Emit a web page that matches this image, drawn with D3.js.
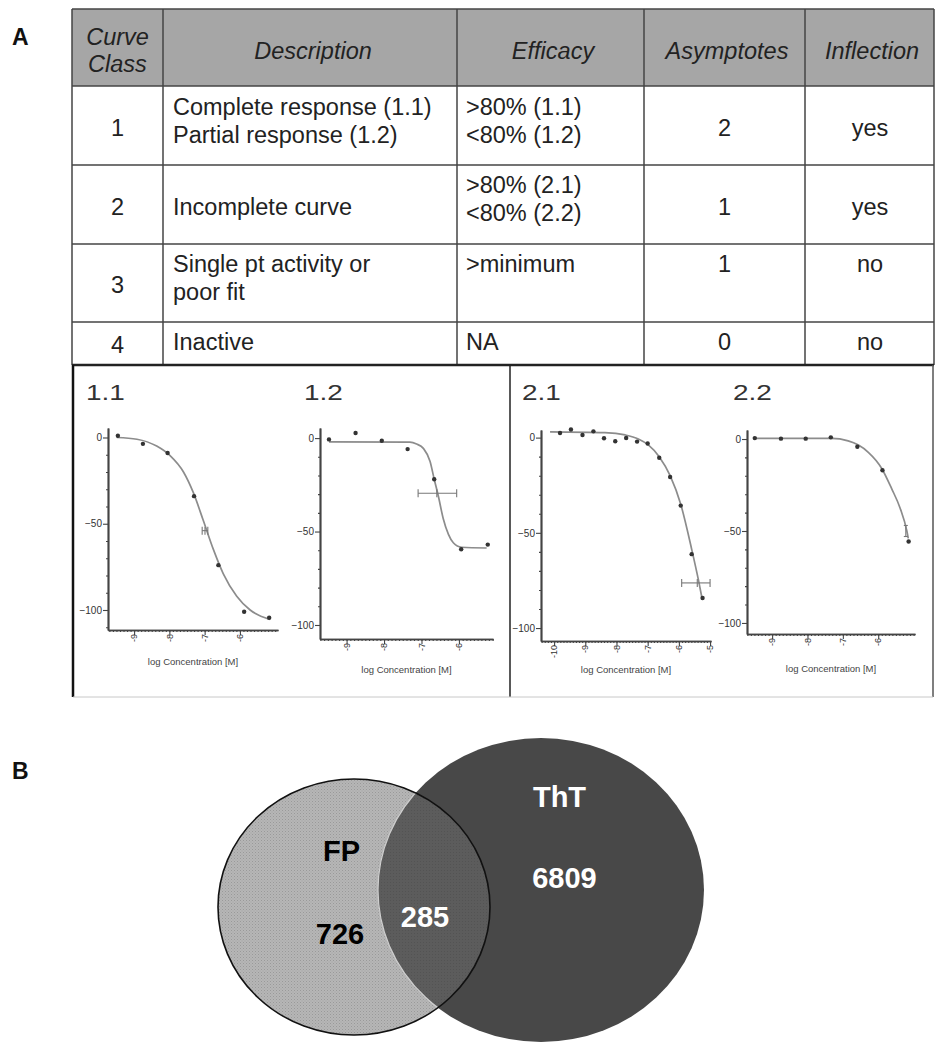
<!DOCTYPE html>
<html><head><meta charset="utf-8">
<script src="https://cdn.jsdelivr.net/npm/d3@7"></script>
<style>
body{margin:0;background:#fff}
svg{display:block}
text{font-family:"Liberation Sans",Arial,Helvetica,sans-serif}
</style>
</head><body>
<svg id="c" width="948" height="1050"></svg>
<script>
// ---------------- DATA ----------------
const tableHeaders = [["Curve","Class"],["Description"],["Efficacy"],["Asymptotes"],["Inflection"]];
const curveClasses = ["1","2","3","4"];
const descriptions = [["Complete response (1.1)","Partial response (1.2)"],["Incomplete curve"],["Single pt activity or","poor fit"],["Inactive"]];
const efficacies = [[">80% (1.1)","<80% (1.2)"],[">80% (2.1)","<80% (2.2)"],[">minimum"],["NA"]];
const asymptotes = ["2","1","1","0"];
const inflections = ["yes","yes","no","no"];

const miniTitles = ["1.1","1.2","2.1","2.2"];
const xAxisTitle = "log Concentration [M]";
const yTickValues = [0,-50,-100];

// curve 1.1
const logC11 = [-9.46,-8.75,-8.05,-7.30,-6.61,-5.88,-5.17];
const resp11 = [1,-3.7,-9,-34,-74,-101,-104.5];
const fitX11 = [-9.49,-8.92,-8.36,-7.98,-7.60,-7.32,-7.04,-6.75,-6.47,-6.09,-5.71,-5.15];
const fitY11 = [0,-1,-5,-10.5,-20,-32,-48,-65,-79,-92,-100,-105.5];
const xTicks11 = [-9,-8,-7,-6];
const ec11 = {x:-6.99, y:-54, lo:-7.07, hi:-6.91};

// curve 1.2
const logC12 = [-9.47,-8.76,-8.06,-7.37,-6.66,-5.94,-5.23];
const resp12 = [-0.7,2.7,-1.4,-5.9,-22,-59.5,-57];
const fitX12 = [-9.47,-7.31,-7.13,-6.95,-6.77,-6.66,-6.55,-6.42,-6.28,-6.15,-5.93,-5.26];
const fitY12 = [-2,-2.2,-3.2,-5.5,-12.5,-22,-31,-43,-51.5,-56,-58.4,-58.8];
const xTicks12 = [-9,-8,-7,-6];
const ec12 = {x:-6.59, y:-29.5, lo:-7.09, hi:-6.06};

// curve 2.1
const logC21 = [-9.81,-9.46,-9.09,-8.74,-8.40,-8.04,-7.69,-7.34,-7.00,-6.63,-6.28,-5.94,-5.59,-5.24];
const resp21 = [2.4,4.3,1.4,3.3,-0.3,-1.9,-0.2,-2.1,-3.1,-10.6,-20.7,-35.7,-61.2,-84.2];
const fitX21 = [-10.13,-8.37,-7.72,-7.30,-6.98,-6.63,-6.28,-5.94,-5.59,-5.37,-5.25];
const fitY21 = [3,2.6,1.4,-0.7,-3.8,-10,-20,-35,-58.6,-75,-85];
const xTicks21 = [-10,-9,-8,-7,-6,-5];
const ec21 = {x:-5.41, y:-76.3, lo:-5.91, hi:-5.0};

// curve 2.2
const logC22 = [-9.49,-8.75,-8.05,-7.34,-6.59,-5.88,-5.14];
const resp22 = [0.5,0.2,0.2,0.9,-4.2,-17,-55.7];
const fitX22 = [-9.49,-7.32,-6.85,-6.56,-6.28,-5.90,-5.62,-5.38,-5.19,-5.15];
const fitY22 = [0.3,0.3,-1,-3.3,-7.2,-16,-27,-37.6,-50,-54];
const xTicks22 = [-9,-8,-7,-6];
const ec22 = {x:-5.22, ylo:-53, yhi:-47};

// Venn
const vennNames = ["FP","ThT"];
const vennOnly = [726, 6809];
const vennShared = 285;

// ---------------- DRAW ----------------
const svg = d3.select("#c");
const FONT = '"Liberation Sans",Arial,Helvetica,sans-serif';

// panel letters
svg.append("text").attr("x",12).attr("y",45).attr("font-size",23).attr("font-weight","bold").attr("fill","#111").text("A");
svg.append("text").attr("x",12).attr("y",779).attr("font-size",23).attr("font-weight","bold").attr("fill","#111").text("B");

// ---- table ----
const colX = [72,163,457,644,805,934];
const rowY = [9,86,165,244,322,365];
const colAlign = ["middle","start","start","middle","middle"];
const colTextX = [117.5,173,466,724.5,870];
const headerX = [117.5,313,553,727,872];

svg.append("rect").attr("x",colX[0]).attr("y",rowY[0]).attr("width",colX[5]-colX[0]).attr("height",rowY[1]-rowY[0]).attr("fill","#a6a6a6");

// header text
tableHeaders.forEach((lines,i)=>{
  const base = lines.length===2 ? [45,72] : [59];
  lines.forEach((t,j)=>{
    svg.append("text").attr("x",headerX[i]).attr("y",base[j]).attr("text-anchor","middle")
      .attr("font-size",23.5).attr("font-style","italic").attr("fill","#222").text(t);
  });
});

const rowTopBase = [115,193,272,350];
const rowMidBase = [136,215,293,353];
const valign = [["m","t","t","m","m"],["m","m","t","m","m"],["m","t","t","t","t"],["m","t","t","t","t"]];
const rowsData = curveClasses.map((c,i)=>[[c],descriptions[i],efficacies[i],[asymptotes[i]],[inflections[i]]]);
rowsData.forEach((cells,r)=>{
  cells.forEach((lines,ci)=>{
    const b0 = valign[r][ci]==="m" ? rowMidBase[r] : rowTopBase[r];
    lines.forEach((t,j)=>{
      svg.append("text").attr("x",colTextX[ci]).attr("y",b0+j*28).attr("text-anchor",colAlign[ci])
        .attr("font-size",23.5).attr("fill","#222").text(t);
    });
  });
});

// grid lines
const grid = svg.append("g").attr("stroke","#444").attr("stroke-width",1.5);
colX.forEach(x=>grid.append("line").attr("x1",x).attr("x2",x).attr("y1",rowY[0]).attr("y2",rowY[5]));
rowY.slice(0,5).forEach(y=>grid.append("line").attr("x1",colX[0]).attr("x2",colX[5]).attr("y1",y).attr("y2",y));
svg.append("line").attr("x1",colX[0]).attr("x2",colX[5]).attr("y1",365).attr("y2",365).attr("stroke","#222").attr("stroke-width",2.5);

// ---- panel frame ----
svg.append("line").attr("x1",73).attr("x2",73).attr("y1",365).attr("y2",697).attr("stroke","#111").attr("stroke-width",2.5);
svg.append("line").attr("x1",510).attr("x2",510).attr("y1",365).attr("y2",697).attr("stroke","#222").attr("stroke-width",1.5);
svg.append("line").attr("x1",933).attr("x2",933).attr("y1",365).attr("y2",697).attr("stroke","#555").attr("stroke-width",1.5);
svg.append("line").attr("x1",73).attr("x2",933).attr("y1",697).attr("y2",697).attr("stroke","#c8c8c8").attr("stroke-width",1);

// ---- mini charts ----
const miniCfg = [
  {x0:108, x1:278, xDomain:[-9.74,-4.92], yTop:428, yBottom:630, yDomain:[-111.6,5.5], tx:86, lb:665},
  {x0:320, x1:493, xDomain:[-9.71,-5.09], yTop:428, yBottom:639, yDomain:[-107.5,5.4], tx:304, lb:673},
  {x0:541, x1:711, xDomain:[-10.42,-4.97], yTop:430, yBottom:641, yDomain:[-106.8,4], tx:522, lb:673},
  {x0:747, x1:915, xDomain:[-9.71,-4.96], yTop:430, yBottom:634, yDomain:[-106,4.9], tx:733, lb:672}
];
const miniData = [
  {lx:logC11, ry:resp11, fx:fitX11, fy:fitY11, ticks:xTicks11, ec:ec11},
  {lx:logC12, ry:resp12, fx:fitX12, fy:fitY12, ticks:xTicks12, ec:ec12},
  {lx:logC21, ry:resp21, fx:fitX21, fy:fitY21, ticks:xTicks21, ec:ec21},
  {lx:logC22, ry:resp22, fx:fitX22, fy:fitY22, ticks:xTicks22, ec:ec22}
];

miniCfg.forEach((cfg,i)=>{
  const d = miniData[i];
  const x = d3.scaleLinear().domain(cfg.xDomain).range([cfg.x0,cfg.x1]);
  const y = d3.scaleLinear().domain(cfg.yDomain).range([cfg.yBottom,cfg.yTop]);
  const g = svg.append("g");

  g.append("text").attr("transform",`translate(${cfg.tx},400) scale(1.3,1)`).attr("font-size",21.5).attr("fill","#333")
    .text(miniTitles[i]);

  // y axis
  const yMinor = d3.range(0,cfg.yDomain[0],-10).filter(v=>v%50!==0);
  g.append("g").attr("transform",`translate(${cfg.x0},0)`)
    .call(d3.axisLeft(y).tickValues(yMinor).tickSize(2).tickSizeOuter(0).tickFormat(""));
  const gy = g.append("g").attr("transform",`translate(${cfg.x0},0)`)
    .call(d3.axisLeft(y).tickValues(yTickValues).tickSize(5).tickSizeOuter(0).tickPadding(1));
  gy.selectAll("text").attr("font-size",10).attr("fill","#333").attr("font-family",FONT);
  // x axis
  const lo = Math.ceil(cfg.xDomain[0]*10), hi = Math.floor(cfg.xDomain[1]*10);
  const xMinor = d3.range(lo,hi+1).map(v=>v/10);
  g.append("g").attr("transform",`translate(0,${cfg.yBottom})`)
    .call(d3.axisBottom(x).tickValues(xMinor).tickSize(2).tickSizeOuter(0).tickFormat(""));
  g.append("g").attr("transform",`translate(0,${cfg.yBottom})`)
    .call(d3.axisBottom(x).tickValues(d.ticks).tickSize(5).tickSizeOuter(0).tickFormat(""));
  g.selectAll(".domain").attr("stroke","#444").attr("stroke-width",1.7);
  g.selectAll(".tick line").attr("stroke","#444").attr("stroke-width",1.1);
  g.selectAll("text.xl").data(d.ticks).join("text").attr("class","xl")
    .attr("transform",t=>`translate(${x(t)},${cfg.yBottom+4}) rotate(-90)`)
    .attr("text-anchor","end").attr("dy","0.35em").attr("font-size",9).attr("fill","#333").text(t=>t);

  g.append("text").attr("x",(cfg.x0+cfg.x1)/2).attr("y",cfg.lb).attr("text-anchor","middle")
    .attr("font-size",9.5).attr("fill","#444").text(xAxisTitle);

  // fitted curve
  g.append("path").datum(d3.zip(d.fx,d.fy))
    .attr("d",d3.line().x(p=>x(p[0])).y(p=>y(p[1])).curve(d3.curveMonotoneX))
    .attr("fill","none").attr("stroke","#8c8c8c").attr("stroke-width",1.7);

  // EC50 marker / error bar
  const ec = d.ec;
  const eg = g.append("g").attr("stroke","#777").attr("stroke-width",1.1).attr("fill","none");
  if (ec.lo!==undefined){
    eg.append("line").attr("x1",x(ec.lo)).attr("x2",x(ec.hi)).attr("y1",y(ec.y)).attr("y2",y(ec.y));
    [ec.lo,ec.hi].forEach(v=>eg.append("line").attr("x1",x(v)).attr("x2",x(v)).attr("y1",y(ec.y)-4).attr("y2",y(ec.y)+4));
    eg.append("line").attr("x1",x(ec.x)).attr("x2",x(ec.x)).attr("y1",y(ec.y)-4).attr("y2",y(ec.y)+4);
  } else {
    eg.append("line").attr("x1",x(ec.x)).attr("x2",x(ec.x)).attr("y1",y(ec.ylo)).attr("y2",y(ec.yhi));
    [ec.ylo,ec.yhi].forEach(v=>eg.append("line").attr("x1",x(ec.x)-2).attr("x2",x(ec.x)+2).attr("y1",y(v)).attr("y2",y(v)));
  }

  // points
  g.selectAll("circle").data(d3.zip(d.lx,d.ry)).join("circle")
    .attr("cx",p=>x(p[0])).attr("cy",p=>y(p[1])).attr("r",2.2).attr("fill","#333");
});

// ---- Venn ----
const defs = svg.append("defs");
const pat = defs.append("pattern").attr("id","fpPat").attr("width",3).attr("height",3).attr("patternUnits","userSpaceOnUse");
pat.append("rect").attr("width",3).attr("height",3).attr("fill","#b6b6b6");
pat.append("rect").attr("x",0).attr("y",0).attr("width",1).attr("height",1).attr("fill","#999");
pat.append("rect").attr("x",1.5).attr("y",1.5).attr("width",1).attr("height",1).attr("fill","#a2a2a2");
const pat2 = defs.append("pattern").attr("id","ovPat").attr("width",3).attr("height",3).attr("patternUnits","userSpaceOnUse");
pat2.append("rect").attr("width",3).attr("height",3).attr("fill","#5c5c5c");
pat2.append("rect").attr("x",0).attr("y",0).attr("width",1).attr("height",1).attr("fill","#535353");

const vennGeom = [{cx:354,cy:907,rx:136,ry:128},{cx:541,cy:890,rx:163,ry:152}];
defs.append("clipPath").attr("id","fpClip").append("ellipse")
  .attr("cx",vennGeom[0].cx).attr("cy",vennGeom[0].cy).attr("rx",vennGeom[0].rx).attr("ry",vennGeom[0].ry);

const vg = svg.append("g");
vg.append("ellipse").attr("cx",vennGeom[0].cx).attr("cy",vennGeom[0].cy).attr("rx",vennGeom[0].rx).attr("ry",vennGeom[0].ry).attr("fill","url(#fpPat)");
vg.append("ellipse").attr("cx",vennGeom[1].cx).attr("cy",vennGeom[1].cy).attr("rx",vennGeom[1].rx).attr("ry",vennGeom[1].ry).attr("fill","#484848");
vg.append("ellipse").attr("clip-path","url(#fpClip)").attr("cx",vennGeom[1].cx).attr("cy",vennGeom[1].cy).attr("rx",vennGeom[1].rx).attr("ry",vennGeom[1].ry)
  .attr("fill","url(#ovPat)").attr("stroke","#cfcfcf").attr("stroke-width",1.2);
vg.append("ellipse").attr("cx",vennGeom[0].cx).attr("cy",vennGeom[0].cy).attr("rx",vennGeom[0].rx).attr("ry",vennGeom[0].ry)
  .attr("fill","none").attr("stroke","#111").attr("stroke-width",1.6);

const vennText = [
  {t:vennNames[0], x:341.5, y:861, c:"#000"},
  {t:String(vennOnly[0]), x:340, y:944, c:"#000"},
  {t:String(vennShared), x:425, y:927, c:"#fff"},
  {t:vennNames[1], x:559.5, y:807, c:"#fff"},
  {t:String(vennOnly[1]), x:564.5, y:888, c:"#fff"}
];
vg.selectAll("text").data(vennText).join("text")
  .attr("x",d=>d.x).attr("y",d=>d.y).attr("text-anchor","middle")
  .attr("font-size",29).attr("font-weight","bold").attr("fill",d=>d.c).text(d=>d.t);
</script>
</body></html>
